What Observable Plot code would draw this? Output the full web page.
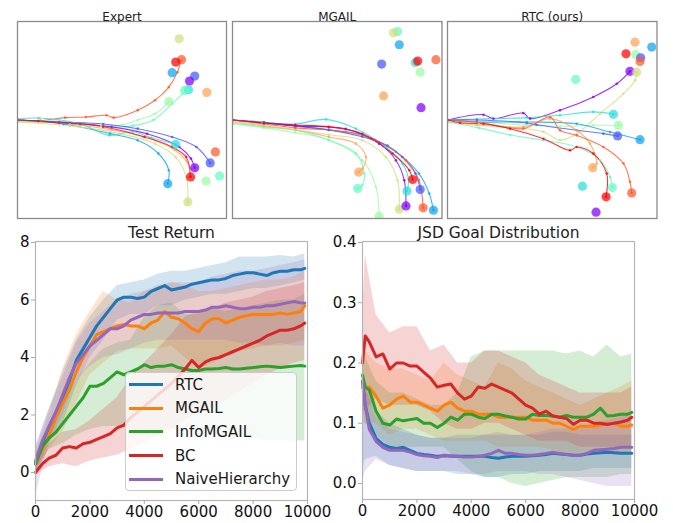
<!DOCTYPE html>
<html><head><meta charset="utf-8">
<script src="https://cdn.jsdelivr.net/npm/d3@7"></script>
<script src="https://cdn.jsdelivr.net/npm/@observablehq/plot@0.6"></script>
<style>
body{margin:0;background:#fff;font-family:"DejaVu Sans",sans-serif;}
#root{position:relative;width:673px;height:523px;overflow:hidden;background:#fff;}
.panel{position:absolute;}
.panel svg{overflow:visible;display:block;}
#legend{position:absolute;left:125px;top:372px;width:172px;height:119px;background:rgba(255,255,255,0.8);border:1px solid #cccccc;border-radius:4px;box-sizing:border-box;font-family:"DejaVu Sans",sans-serif;font-size:15px;color:#1a1a1a;}
#legend .row{height:23.6px;display:flex;align-items:center;}
#legend .sw{width:34px;height:3px;margin-left:3px;margin-right:12px;}
</style></head><body><div id="root"></div>
<script>
// ---------- colours ----------
const rainbow = ["#8000ff","#4757fb","#0ea4f0","#2bdddd","#63fbc3","#9cfba4","#d4dd80","#ffa457","#ff572c","#ff0000"];
const methods = ["RTC","MGAIL","InfoMGAIL","BC","NaiveHierarchy"];
const methodColors = ["#1f77b4","#ff7f0e","#2ca02c","#d62728","#9467bd"];

// ---------- top panels: trajectories [colourIndex, [[x,y],...]] and goals [colourIndex, x, y] ----------
const panelTitles = ["Expert","MGAIL","RTC (ours)"];
const expertTrajectories = [
 [8, [[0,0],[11,-0.3],[22.8,1.2],[32.7,1.5],[42.6,2.4],[46,1.2],[57.5,5],[65.8,10],[72.4,16.7],[76.5,24.3],[78.2,30.2]]],
 [5, [[0,-1],[20,-1.5],[40,-3],[50,-2.5],[57.5,0],[65.8,3.2],[72.4,9.1]]],
 [4, [[0,0],[25,-1],[45,-3.5],[55,-3],[65,0],[74,8.3],[80.7,15]]],
 [1, [[0,0],[20,-1],[41,-2],[57.5,-4.4],[74,-8.6],[85.6,-13.7],[92.2,-21.8]]],
 [0, [[0,0],[25,-1.5],[45,-3.5],[62,-7],[77.4,-13.7],[83,-19.6],[84.8,-24.3]]],
 [7, [[0,-0.5],[25,-2],[45,-5],[62,-9],[75,-15],[81,-21],[83,-25]]],
 [2, [[0,0],[22,-2],[44.3,-6.9],[57.5,-10.3],[67.4,-17],[72.4,-25.5],[71.9,-32.3]]],
 [6, [[0,-1],[25,-3],[49,-6.9],[65.8,-12],[75.7,-18.8],[80.7,-28.9],[81.5,-41.6]]],
 [3, [[0,0.5],[10,1],[30,-2],[44,-7.8],[55,-6],[64,-9],[75.7,-12.3]]],
 [9, [[0,0],[10,-0.5],[20,-1.5],[30,-2],[41,-3.4],[60.8,-8.6],[74,-13.7],[80.7,-18.8],[82.8,-28.9]]]
];
const expertGoals = [[6,77.4,41.2],[8,78.5,30.6],[9,75.7,29.4],[2,74,24],[1,84.8,22.3],[0,82.3,19.8],[3,81.8,15.4],[4,80,15],[7,90.6,14],[5,72.4,9.3],[3,75.7,-12.3],[8,94.7,-16.2],[1,92.2,-21.8],[0,84.8,-24.3],[9,82.8,-28.9],[5,90.2,-31],[4,96.7,-28.4],[2,71.9,-32.3],[6,81.5,-41.6]];

const mgailTrajectories = [
 [5, [[0,-2],[15,-4],[30,-6.5],[46,-10],[62,-20.4],[68.5,-34],[70,-48.8]]],
 [4, [[0,-1.5],[15,-3.5],[30,-5.2],[46,-10.3],[58.9,-17],[62.9,-27.2],[62,-33],[59.7,-34.8]]],
 [7, [[0,-1],[15,-3],[30,-5],[46,-8.6],[58.9,-12],[63.7,-18.8],[62,-24.7],[60.2,-26.5]]],
 [6, [[0,-1],[15,-2.5],[30,-5],[46,-7.5],[62,-10.3],[73.2,-18.8],[78.8,-30.6],[79.6,-45.3]]],
 [3, [[0,0],[14.3,-1.2],[30,-2],[44.6,0.3],[58.9,-4.4],[73.2,-13.7],[81,-22],[84,-30],[83.3,-36.1]]],
 [2, [[0,0],[15,-1],[30,-3],[46,-5],[62,-7.6],[78,-16.2],[89,-27.2],[93.9,-37.3],[95.9,-45.8]]],
 [1, [[0,0],[15,-1.5],[30,-3],[46,-5],[62,-8.5],[74,-13],[81,-18.8],[87.3,-27.2],[89.6,-35.3]]],
 [0, [[0,0],[15,-1.5],[30,-3],[54,-4.5],[70,-12],[78,-20.4],[82,-30.6],[82.8,-43.6]]],
 [8, [[0,0],[15,-2],[30,-4],[54,-6],[68,-10],[82.8,-20.4],[89,-30.6],[91,-44.6]]],
 [9, [[0,0],[15,-1.5],[30,-2.5],[46,-3.5],[62,-7],[76.4,-17],[84.4,-25.5],[86,-30.2]]]
];
const mgailGoals = [[4,78.8,44.9],[6,76.8,44.3],[2,79.6,38.2],[1,71.2,28.4],[3,87.3,29.2],[9,88.4,29.9],[8,97.1,30.6],[5,89.6,24.3],[7,72.1,12.2],[0,90,6.25],[7,60.2,-26.5],[4,59.7,-34.8],[5,70,-48.8],[6,79.6,-45.3],[0,82.8,-43.6],[8,91,-44.6],[2,95.9,-45.8],[3,83.3,-36.1],[1,89.6,-35.3],[9,86,-30.2]];

const rtcTrajectories = [
 [0, [[0,0],[17.2,2.7],[21.9,0.7],[36.2,3.5],[39.4,0.7],[53.7,4.9],[69.6,11.7],[80.8,18.4],[87.1,24.7]]],
 [6, [[0,0],[15,-2],[29.9,-3.5],[45.8,-6],[53.7,-10.3],[61.7,-7],[72.8,3.2],[83.9,13.3],[89.5,20.1],[90.3,24.3]]],
 [3, [[0,0],[14,0.5],[37.8,1.2],[53.7,2.4],[69.6,4.1],[79.2,2.9]]],
 [5, [[0,0],[14,-1],[37.8,-2.5],[53.7,-3.2],[69.6,-2.7],[81.6,-2.7]]],
 [1, [[0,0],[14,0],[37.8,-1.5],[42.5,-2.4],[61.7,-5.2],[74.4,-6.9],[81.2,-8.1]]],
 [2, [[0,0],[14,-1],[37.8,-1],[61.7,-1.9],[77.6,-6.1],[91.9,-10]]],
 [7, [[0,-1],[14,-2.5],[36.2,-3.5],[49,0.7],[61.7,-5.2],[68,-12],[71.2,-22.1],[69.3,-24.2]]],
 [8, [[0,0],[14,-1],[36.2,-4.4],[49,1.5],[53.7,-5.2],[61.7,-7.8],[74.4,-13.7],[84,-22.1],[87.1,-31.4],[87.9,-37]]],
 [4, [[0,-1],[15,-4],[29.9,-7.6],[45.8,-10.3],[61.7,-13.7],[72.8,-20.4],[77.6,-28.9],[78.7,-34.3]]],
 [9, [[0,0],[6,-1.4],[17.2,-1.9],[29.9,-4.4],[45.8,-9.5],[58.5,-15.4],[61.7,-13.7],[69.6,-17],[76,-27.2],[75.7,-39]]]
];
const rtcGoals = [[7,89.5,39.5],[2,97.5,37],[9,85.2,33.6],[5,89.8,33.3],[1,92.2,31.6],[8,91.9,29.7],[0,87.1,24.7],[6,90.3,24.3],[4,61.2,20.6],[3,79.2,2.9],[5,81.6,-2.7],[1,81.2,-8.1],[2,91.9,-10],[7,69.3,-24.2],[3,64.4,-33.6],[4,78.7,-34.3],[8,87.9,-37],[9,75.7,-39],[0,70.9,-46.8]];

// ---------- Test Return ----------
const returnSteps = [0,250,500,750,1000,1250,1500,1750,2000,2250,2500,2750,3000,3250,3500,3750,4000,4250,4500,4750,5000,5250,5500,5750,6000,6250,6500,6750,7000,7250,7500,7750,8000,8250,8500,8750,9000,9250,9500,9750,9900];
const returnRTC = [0.3,1.0,1.6,2.1,2.6,3.2,3.9,4.3,4.7,5.1,5.4,5.7,6.0,6.1,6.1,6.05,6.1,6.3,6.4,6.5,6.35,6.4,6.45,6.55,6.6,6.65,6.7,6.7,6.75,6.85,6.9,6.95,6.95,6.9,6.85,6.95,7.0,7.0,7.05,7.05,7.1];
const returnMGAIL = [0.3,0.8,1.3,1.9,2.4,2.9,3.5,4.0,4.4,4.8,4.9,5.0,5.1,5.15,5.1,5.1,5.0,5.2,5.3,5.6,5.4,5.35,5.2,5.0,4.9,5.2,5.35,5.35,5.2,5.3,5.4,5.45,5.5,5.5,5.5,5.5,5.55,5.5,5.55,5.6,5.8];
const returnInfoMGAIL = [0.3,0.9,1.2,1.4,1.7,2.0,2.3,2.6,3.0,3.0,3.1,3.3,3.5,3.4,3.5,3.6,3.75,3.65,3.7,3.7,3.75,3.65,3.6,3.55,3.55,3.6,3.6,3.62,3.65,3.6,3.6,3.63,3.65,3.68,3.7,3.68,3.65,3.68,3.7,3.72,3.7];
const returnBC = [0.0,0.3,0.5,0.6,0.85,0.9,0.85,1.0,1.05,1.15,1.25,1.35,1.55,1.65,1.9,2.1,2.3,2.5,2.7,2.9,3.1,3.35,3.6,3.9,3.65,3.85,3.95,4.0,4.1,4.2,4.3,4.4,4.5,4.6,4.75,4.85,4.95,4.95,5.0,5.1,5.2];
const returnNaive = [0.4,1.1,1.6,2.1,2.7,3.3,3.8,4.1,4.4,4.6,4.8,5.0,5.0,5.1,5.3,5.4,5.5,5.5,5.55,5.55,5.55,5.55,5.6,5.6,5.6,5.65,5.75,5.75,5.8,5.75,5.7,5.7,5.75,5.75,5.8,5.8,5.85,5.9,5.95,5.9,5.9];

const returnBandSteps = [0,500,1000,1500,2000,2500,3000,3500,4000,4500,5000,5500,6000,6500,7000,7500,8000,8500,9000,9500,9900];
const returnRTCHi = [0.8,2.2,3.5,4.6,5.4,6.0,6.5,6.6,6.7,6.9,7.0,7.0,7.1,7.2,7.3,7.5,7.5,7.5,7.55,7.5,7.6];
const returnRTCLo = [0.0,1.0,1.7,3.0,4.0,4.6,5.3,5.5,5.5,5.8,5.8,6.0,6.1,6.2,6.2,6.3,6.4,6.4,6.5,6.6,6.7];
const returnMGAILHi = [0.6,2.0,3.6,4.8,5.6,6.3,6.0,5.9,6.3,6.4,6.6,6.5,6.3,6.3,6.4,6.5,6.6,6.7,6.7,6.8,7.0];
const returnMGAILLo = [0.0,0.8,1.4,2.4,3.4,3.8,4.2,4.3,4.3,4.3,4.4,4.0,3.6,3.8,4.0,4.2,4.3,4.4,4.4,4.5,4.6];
const returnInfoHi = [0.6,1.6,2.5,3.2,3.8,4.3,4.5,4.6,5.4,5.8,5.9,5.5,5.5,5.7,5.6,5.7,5.8,5.9,6.0,6.0,6.2];
const returnInfoLo = [0.0,0.8,1.0,1.3,1.5,1.6,1.6,1.5,1.4,1.5,1.5,1.4,1.3,1.3,1.2,1.2,1.2,1.1,1.1,1.1,1.1];
const returnBCHi = [0.3,1.0,1.4,1.5,1.8,2.2,2.6,3.3,3.8,4.3,4.8,5.4,5.6,5.7,5.9,6.0,6.1,6.3,6.4,6.5,6.6];
const returnBCLo = [-0.1,0.2,0.3,0.2,0.4,0.5,0.6,0.8,1.0,1.3,1.5,1.8,2.1,2.3,2.5,2.8,3.1,3.4,3.6,3.8,3.9];
const returnNaiveHi = [0.9,2.2,3.3,4.5,5.2,5.6,6.0,6.2,6.3,6.5,6.6,6.6,6.6,6.8,6.9,7.0,7.0,7.1,7.2,7.3,7.4];
const returnNaiveLo = [-0.8,1.0,2.0,3.2,3.7,4.0,4.1,4.3,4.5,4.6,4.6,4.6,4.6,4.6,4.6,4.5,4.5,4.4,4.5,4.4,4.4];

// ---------- JSD Goal Distribution ----------
const jsdSteps = [0,100,250,500,750,1000,1250,1500,1750,2000,2250,2500,2750,3000,3250,3500,3750,4000,4250,4500,4750,5000,5250,5500,5750,6000,6250,6500,6750,7000,7250,7500,7750,8000,8250,8500,8750,9000,9250,9500,9750,9900];
const jsdRTC = [0.17,0.13,0.10,0.075,0.065,0.06,0.058,0.06,0.055,0.05,0.048,0.047,0.045,0.046,0.045,0.045,0.045,0.045,0.045,0.045,0.043,0.042,0.044,0.045,0.045,0.045,0.046,0.047,0.048,0.05,0.049,0.048,0.047,0.047,0.049,0.05,0.051,0.052,0.051,0.05,0.05,0.05];
const jsdMGAIL = [0.16,0.16,0.16,0.145,0.125,0.13,0.14,0.145,0.135,0.135,0.13,0.125,0.12,0.13,0.135,0.125,0.12,0.12,0.115,0.115,0.115,0.11,0.11,0.11,0.11,0.11,0.105,0.105,0.105,0.1,0.1,0.095,0.09,0.095,0.095,0.095,0.097,0.1,0.1,0.095,0.095,0.097];
const jsdInfoMGAIL = [0.18,0.16,0.155,0.12,0.1,0.097,0.107,0.104,0.106,0.108,0.1,0.1,0.093,0.1,0.11,0.105,0.115,0.115,0.11,0.108,0.115,0.115,0.112,0.11,0.107,0.107,0.115,0.113,0.113,0.112,0.11,0.113,0.11,0.11,0.11,0.115,0.125,0.112,0.113,0.115,0.115,0.118];
const jsdBC = [0.2,0.245,0.235,0.21,0.215,0.19,0.2,0.2,0.195,0.195,0.185,0.175,0.16,0.163,0.165,0.15,0.14,0.145,0.16,0.158,0.165,0.16,0.155,0.15,0.14,0.13,0.125,0.115,0.12,0.112,0.11,0.108,0.098,0.105,0.105,0.1,0.1,0.098,0.1,0.102,0.105,0.11];
const jsdNaive = [0.17,0.13,0.09,0.07,0.06,0.055,0.055,0.055,0.052,0.048,0.046,0.045,0.043,0.047,0.046,0.045,0.044,0.044,0.045,0.047,0.05,0.055,0.05,0.05,0.048,0.047,0.047,0.048,0.05,0.052,0.05,0.048,0.047,0.047,0.05,0.055,0.056,0.057,0.058,0.06,0.06,0.06];

const jsdBandSteps = [0,100,500,1000,1500,2000,2500,3000,3500,4000,4500,5000,5500,6000,6500,7000,7500,8000,8500,9000,9500,9900];
const jsdRTCHi = [0.19,0.16,0.12,0.1,0.09,0.08,0.075,0.075,0.08,0.08,0.08,0.08,0.08,0.08,0.08,0.085,0.085,0.08,0.08,0.08,0.08,0.08];
const jsdRTCLo = [0.02,0.04,0.045,0.03,0.025,0.02,0.02,0.02,0.015,0.015,0.01,0.01,0.015,0.015,0.02,0.02,0.02,0.02,0.025,0.025,0.025,0.025];
const jsdMGAILHi = [0.22,0.22,0.2,0.19,0.19,0.18,0.17,0.2,0.18,0.17,0.16,0.2,0.19,0.17,0.16,0.15,0.14,0.13,0.14,0.15,0.16,0.17];
const jsdMGAILLo = [0.1,0.1,0.1,0.08,0.09,0.09,0.08,0.07,0.07,0.07,0.07,0.06,0.06,0.06,0.06,0.055,0.05,0.05,0.05,0.05,0.05,0.05];
const jsdInfoHi = [0.22,0.21,0.17,0.15,0.15,0.14,0.13,0.13,0.15,0.21,0.22,0.22,0.22,0.22,0.22,0.22,0.215,0.22,0.21,0.23,0.21,0.215];
const jsdInfoLo = [0.13,0.1,0.08,0.06,0.06,0.06,0.06,0.06,0.04,0.02,0.01,0.01,0.0,-0.005,0.0,0.005,0.01,0.01,0.01,0.01,0.015,0.015];
const jsdBCHi = [0.27,0.38,0.28,0.25,0.26,0.26,0.22,0.23,0.2,0.2,0.22,0.22,0.21,0.2,0.18,0.17,0.16,0.15,0.15,0.15,0.15,0.16];
const jsdBCLo = [0.12,0.12,0.14,0.13,0.13,0.13,0.12,0.1,0.09,0.09,0.1,0.1,0.09,0.08,0.07,0.07,0.07,0.06,0.06,0.06,0.06,0.06];
const jsdNaiveHi = [0.19,0.16,0.11,0.09,0.085,0.08,0.075,0.075,0.075,0.075,0.08,0.085,0.08,0.08,0.085,0.09,0.09,0.09,0.1,0.105,0.11,0.115];
const jsdNaiveLo = [0.0,0.02,0.04,0.03,0.025,0.02,0.02,0.02,0.02,0.015,0.015,0.02,0.02,0.02,0.015,0.015,0.01,0.005,0.0,-0.005,-0.005,-0.005];

const xTicks = [0,2000,4000,6000,8000,10000];
const returnTicks = [0,2,4,6,8];
const jsdTicks = [0,0.1,0.2,0.3,0.4];

// ---------- drawing ----------
const root = document.getElementById("root");
function place(el, left, top) {
  const d = document.createElement("div");
  d.className = "panel"; d.style.left = left + "px"; d.style.top = top + "px";
  d.appendChild(el); root.appendChild(d);
}

function trajPanel(title, trajs, goals, frameLeft, frameRight) {
  const pad = 6;
  const plot = Plot.plot({
    width: frameRight - frameLeft + 2 * pad, height: 218 + pad,
    marginLeft: pad, marginRight: pad, marginTop: 21, marginBottom: pad,
    x: {domain: [0, 100], axis: null},
    y: {domain: [-50, 50], axis: null},
    style: {fontFamily: "DejaVu Sans", background: "transparent", overflow: "visible"},
    marks: [
      ...trajs.map(([c, pts]) => Plot.line(pts, {x: d => d[0], y: d => d[1], stroke: rainbow[c], strokeWidth: 1.1, strokeOpacity: 0.8, curve: "catmull-rom", clip: true})),
      ...trajs.map(([c, pts]) => Plot.dot(pts, {x: d => d[0], y: d => d[1], r: 1.3, fill: rainbow[c], fillOpacity: 0.8, stroke: null, clip: true})),
      ...goals.map(([c, x, y]) => Plot.dot([[x, y]], {x: d => d[0], y: d => d[1], r: 4.6, fill: rainbow[c], fillOpacity: 0.72, stroke: null, clip: true})),
      Plot.frame({stroke: "#8a8a8a", strokeWidth: 1.3}),
      Plot.text([title], {frameAnchor: "top", dy: -9, fontSize: 12, fill: "#222"})
    ]
  });
  place(plot, frameLeft - pad, 0);
}

trajPanel(panelTitles[0], expertTrajectories, expertGoals, 17, 226);
trajPanel(panelTitles[1], mgailTrajectories, mgailGoals, 231.5, 441);
trajPanel(panelTitles[2], rtcTrajectories, rtcGoals, 446.5, 656);

function curveChart(o) {
  const lineMarks = methods.map((m, i) => Plot.line(o.steps.map((s, j) => ({step: s, v: o.means[i][j]})), {x: "step", y: "v", stroke: methodColors[i], strokeWidth: 3}));
  const bandMarks = methods.map((m, i) => Plot.areaY(o.bandSteps.map((s, j) => ({step: s, lo: o.lows[i][j], hi: o.highs[i][j]})), {x: "step", y1: "lo", y2: "hi", fill: methodColors[i], fillOpacity: 0.2}));
  const plot = Plot.plot({
    width: o.width, height: 303,
    marginLeft: o.marginLeft, marginRight: o.marginRight, marginTop: 21, marginBottom: o.marginBottom,
    x: {domain: [0, 10000], label: null},
    y: {domain: o.yDomain, label: null},
    style: {fontFamily: "DejaVu Sans", background: "transparent", overflow: "visible"},
    marks: [
      ...bandMarks,
      ...lineMarks,
      Plot.frame({stroke: "#b5b5b5", strokeWidth: 1.2}),
      Plot.axisX({ticks: xTicks, tickFormat: d => String(d), tickSize: 4, tickPadding: 2, stroke: "#aaaaaa", fill: "#111", fontSize: 15, label: null}),
      Plot.axisY({ticks: o.yTicks, tickFormat: o.yFormat, tickSize: 4, tickPadding: 2, stroke: "#aaaaaa", fill: "#111", fontSize: 15, label: null}),
      Plot.text([o.title], {frameAnchor: "top", dy: -15, fontSize: 15.5, fill: "#222"})
    ]
  });
  place(plot, o.left, 220);
}

curveChart({
  left: 0, width: 330, marginLeft: 35, marginRight: 23, marginBottom: 23,
  title: "Test Return", steps: returnSteps,
  means: [returnRTC, returnMGAIL, returnInfoMGAIL, returnBC, returnNaive],
  bandSteps: returnBandSteps,
  lows: [returnRTCLo, returnMGAILLo, returnInfoLo, returnBCLo, returnNaiveLo],
  highs: [returnRTCHi, returnMGAILHi, returnInfoHi, returnBCHi, returnNaiveHi],
  yDomain: [-0.974, 8.035], yTicks: returnTicks, yFormat: d => String(d)
});

curveChart({
  left: 330, width: 343, marginLeft: 32, marginRight: 39, marginBottom: 24,
  title: "JSD Goal Distribution", steps: jsdSteps,
  means: [jsdRTC, jsdMGAIL, jsdInfoMGAIL, jsdBC, jsdNaive],
  bandSteps: jsdBandSteps,
  lows: [jsdRTCLo, jsdMGAILLo, jsdInfoLo, jsdBCLo, jsdNaiveLo],
  highs: [jsdRTCHi, jsdMGAILHi, jsdInfoHi, jsdBCHi, jsdNaiveHi],
  yDomain: [-0.0266, 0.4017], yTicks: jsdTicks, yFormat: d3.format(".1f")
});

// legend (inside Test Return panel)
const legend = document.createElement("div");
legend.id = "legend";
methods.forEach((m, i) => {
  const row = document.createElement("div"); row.className = "row";
  const sw = document.createElement("div"); sw.className = "sw"; sw.style.background = methodColors[i];
  const tx = document.createElement("span"); tx.textContent = m;
  row.appendChild(sw); row.appendChild(tx); legend.appendChild(row);
});
root.appendChild(legend);
</script></body></html>
